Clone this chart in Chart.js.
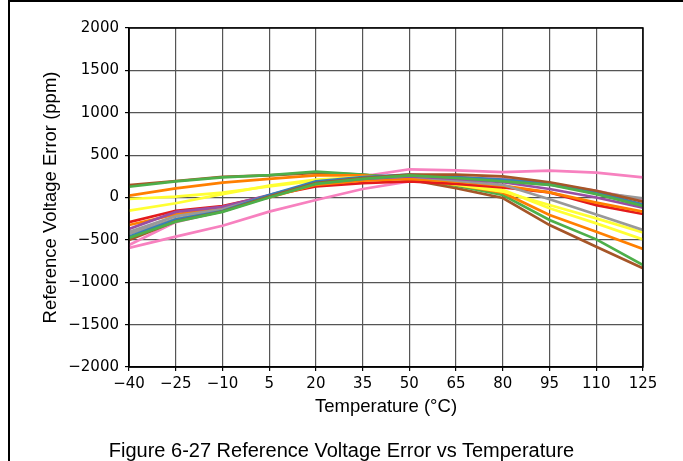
<!DOCTYPE html>
<html>
<head>
<meta charset="utf-8">
<script src="https://cdn.jsdelivr.net/npm/chart.js@4/dist/chart.umd.min.js"></script>
<style>
  html, body { margin: 0; padding: 0; background: #fff; }
  #wrap { position: relative; width: 683px; height: 461px; overflow: hidden; }
  #frame { position: absolute; left: 8px; top: 0; width: 700px; height: 470px;
           border-left: 2px solid #000; border-top: 2px solid #000; }
  #caption { position: absolute; left: 0; width: 683px; top: 438px; line-height: 24px; text-align: center;
             font-size: 20px; font-family: "Liberation Sans", Arial, sans-serif; color: #000; }
  canvas { position: absolute; left: 0; top: 0; }
</style>
</head>
<body>
<div id="wrap">
  <div id="frame"></div>
  <canvas id="chart" width="683" height="461"></canvas>
  <div id="caption">Figure 6-27 Reference Voltage Error vs Temperature</div>
</div>
<script>
// Reference voltage error (ppm) vs temperature, one line per unit
const temps = [-40, -25, -10, 5, 20, 35, 50, 65, 80, 95, 110, 125];
const yTicks = [-2000, -1500, -1000, -500, 0, 500, 1000, 1500, 2000];

const brownA  = [147, 195, 245, 260, 290, 270, 210, 110, -6, -325, -580, -836];
const greenA  = [127, 190, 238, 265, 305, 270, 230, 140, 30, -265, -494, -797];
const orangeA = [21, 108, 175, 220, 260, 260, 220, 150, 57, -207, -403, -608];
const yellowA = [-18, 10, 57, 130, 200, 230, 240, 150, 70, -88, -246, -411];
const yellowB = [-156, -68, 40, 140, 210, 240, 245, 170, 90, -128, -305, -494];
const redA    = [-290, -156, -100, 20, 130, 170, 190, 160, 120, 60, -90, -195];
const orangeB = [-325, -200, -120, 0, 150, 200, 220, 190, 140, 60, -60, -167];
const purpleA = [-372, -170, -110, 30, 170, 220, 250, 220, 180, 100, 0, -120];
const grayA   = [-407, -220, -140, 20, 180, 230, 260, 240, 200, 150, 60, -10];
const grayB   = [-430, -250, -150, 10, 170, 220, 250, 200, 150, -20, -200, -384];
const blueA   = [-462, -260, -160, 30, 190, 240, 270, 240, 210, 170, 60, -80];
const greenB  = [-478, -285, -170, 0, 160, 220, 260, 230, 190, 150, 40, -100];
const brownB  = [-500, -280, -165, 10, 170, 230, 270, 270, 250, 180, 80, -50];
const pinkA   = [-560, -290, -160, 20, 170, 250, 333, 320, 300, 316, 293, 238];
const pinkB   = [-596, -462, -333, -167, -30, 100, 190, 230, 220, 160, 80, -30];

const series = [
    { data: greenB,  color: '#4daf4a' },
    { data: brownB,  color: '#a65628' },
    { data: blueA,   color: '#377eb8' },
    { data: grayA,   color: '#999999' },
    { data: purpleA, color: '#984ea3' },
    { data: grayB,   color: '#999999' },
    { data: orangeB, color: '#ff7f00' },
    { data: redA,    color: '#e41a1c' },
    { data: yellowA, color: '#ffff33' },
    { data: yellowB, color: '#ffff33' },
    { data: orangeA, color: '#ff7f00' },
    { data: greenA,  color: '#4daf4a' },
    { data: brownA,  color: '#a65628' },
    { data: pinkB,   color: '#f781bf' },
    { data: pinkA,   color: '#f781bf' },
];

const TICK_FONT = '"DejaVu Sans", sans-serif';
const TITLE_FONT = '"Liberation Sans", Arial, sans-serif';
const fmt = v => (v < 0 ? '\u2212' + Math.abs(v) : String(v));

const frameBox = {
    id: 'frameBox',
    afterDraw(chart) {
        const { ctx, chartArea: a } = chart;
        ctx.save();
        ctx.strokeStyle = '#000';
        ctx.lineWidth = 1.5;
        ctx.strokeRect(a.left, a.top, a.right - a.left, a.bottom - a.top);
        ctx.restore();
    }
};

new Chart(document.getElementById('chart').getContext('2d'), {
    type: 'line',
    data: {
        labels: temps,
        datasets: series.map(s => ({
            data: s.data.map((v, i) => ({ x: temps[i], y: v })),
            borderColor: s.color,
            backgroundColor: s.color,
            borderWidth: 2.7,
            pointRadius: 0,
            tension: 0,
            fill: false,
        }))
    },
    options: {
        responsive: false,
        animation: false,
        layout: { padding: { top: 28, right: 40, left: 36, bottom: 39 } },
        plugins: { legend: { display: false }, tooltip: { enabled: false } },
        scales: {
            x: {
                type: 'linear',
                min: -40,
                max: 125,
                afterBuildTicks: axis => { axis.ticks = temps.map(v => ({ value: v })); },
                afterFit: axis => { axis.height = 55; },
                grid: { color: '#555', lineWidth: 1.2, tickColor: '#000', tickLength: 4 },
                border: { color: '#000', width: 1.5 },
                ticks: { color: '#000', font: { family: TICK_FONT, size: 15 }, padding: 4,
                         maxRotation: 0, callback: v => fmt(v) },
                title: { display: true, text: 'Temperature (°C)', color: '#000',
                         font: { family: TITLE_FONT, size: 18.5 } }
            },
            y: {
                min: -2000,
                max: 2000,
                afterBuildTicks: axis => { axis.ticks = yTicks.map(v => ({ value: v })); },
                afterFit: axis => { axis.width = 93; },
                grid: { color: '#555', lineWidth: 1.2, tickColor: '#000', tickLength: 4 },
                border: { color: '#000', width: 1.5 },
                ticks: { color: '#000', font: { family: TICK_FONT, size: 15 }, padding: 6,
                         callback: v => fmt(v) },
                title: { display: true, text: 'Reference Voltage Error (ppm)', color: '#000',
                         font: { family: TITLE_FONT, size: 18.5 } }
            }
        }
    },
    plugins: [frameBox]
});
</script>
</body>
</html>
